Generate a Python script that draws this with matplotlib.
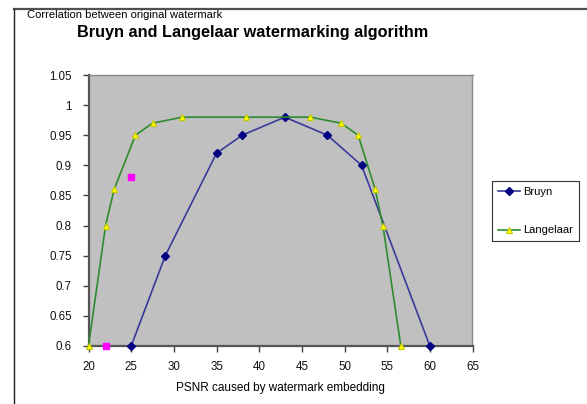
import matplotlib
matplotlib.use("Agg")
import matplotlib.pyplot as plt
from matplotlib.ticker import FuncFormatter
from matplotlib.lines import Line2D

# PSNR (dB) vs correlation with the original watermark
bruyn_psnr = [25, 29, 35, 38, 43, 48, 52, 60]
bruyn_corr = [0.60, 0.75, 0.92, 0.95, 0.98, 0.95, 0.90, 0.60]

lang_psnr = [20, 22, 23, 25.5, 27.5, 31, 38.5, 46, 49.6, 51.6, 53.6, 54.5, 56.6]
lang_corr = [0.60, 0.80, 0.86, 0.95, 0.97, 0.98, 0.98, 0.98, 0.97, 0.95, 0.86, 0.80, 0.60]

extra_psnr = [22, 25]
extra_corr = [0.60, 0.88]

x_ticks = [20, 25, 30, 35, 40, 45, 50, 55, 60, 65]
y_ticks = [0.6, 0.65, 0.7, 0.75, 0.8, 0.85, 0.9, 0.95, 1.0, 1.05]

plt.rcParams["font.family"] = ["Liberation Sans", "DejaVu Sans"]

W, H = 587, 404
fig = plt.figure(figsize=(W / 100, H / 100), dpi=100)
fig.patch.set_facecolor("white")

# outer chart frame (top and left edges visible)
fig.add_artist(Line2D([14.5 / W, 1], [1 - 9 / H, 1 - 9 / H], transform=fig.transFigure,
                      color="#505050", lw=1.6))
fig.add_artist(Line2D([14.5 / W, 14.5 / W], [0, 1 - 9 / H], transform=fig.transFigure,
                      color="#202020", lw=1.0))

ax = fig.add_axes([88.5 / W, (H - 346) / H, (472.5 - 88.5) / W, (346 - 75) / H])
ax.set_facecolor("#C0C0C0")

ax.plot(bruyn_psnr, bruyn_corr, color="#3a3a9a", lw=1.2, marker="D", ms=3.6,
        mfc="#000080", mec="#000080", label="Bruyn", clip_on=False, zorder=3)
ax.plot(lang_psnr, lang_corr, color="#2e8b2e", lw=1.2, marker="^", ms=5,
        mfc="#FFFF00", mec="#C8C800", mew=0.8, label="Langelaar", clip_on=False, zorder=3)
ax.plot(extra_psnr, extra_corr, ls="none", marker="s", ms=4.5, color="#FF00FF",
        clip_on=False, zorder=3)

ax.set_xlim(20, 65)
ax.set_ylim(0.6, 1.05)
ax.set_xticks(x_ticks)
ax.set_yticks(y_ticks)
ax.yaxis.set_major_formatter(FuncFormatter(lambda v, p: f"{v:g}"))
ax.tick_params(axis="both", direction="out", length=4, width=1, color="#404040",
               labelsize=8.3, labelcolor="#111111")
ax.tick_params(axis="y", pad=8)
ax.tick_params(axis="x", pad=7)

for side in ["left", "bottom"]:
    ax.spines[side].set_color("#555555")
    ax.spines[side].set_linewidth(1.6)
for side in ["top", "right"]:
    ax.spines[side].set_color("#8a8a8a")
    ax.spines[side].set_linewidth(1.0)

ax.set_xlabel("PSNR caused by watermark embedding", fontsize=8.5, labelpad=6)

fig.text(27 / W, 1 - 15 / H, "Correlation between original watermark", fontsize=8,
         ha="left", va="center")
fig.text(253 / W, 1 - 33 / H, "Bruyn and Langelaar watermarking algorithm", fontsize=11.7,
         fontweight="bold", ha="center", va="center")

leg = fig.legend(loc="upper left", bbox_to_anchor=(492 / W, 1 - 181 / H), frameon=True,
                 fontsize=8, labelspacing=2.6, handlelength=2.0, handletextpad=0.3,
                 borderpad=0.5, borderaxespad=0, fancybox=False)
leg.get_frame().set_edgecolor("black")
leg.get_frame().set_linewidth(0.8)

fig.savefig("out.png", dpi=100)
